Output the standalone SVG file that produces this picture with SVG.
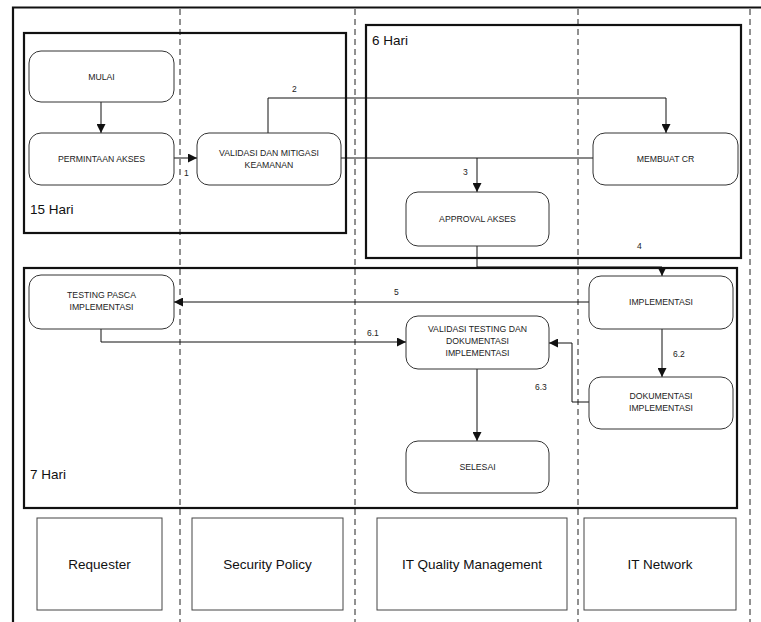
<svg xmlns="http://www.w3.org/2000/svg" width="761" height="622" viewBox="0 0 761 622">
  <style>
    .lane { stroke: #222; stroke-width: 1; stroke-dasharray: 6 4; fill: none; }
    .frame { stroke: #111; stroke-width: 2.2; fill: none; }
    .phase { stroke: #111; stroke-width: 2.2; fill: none; }
    .node rect { fill: #fff; stroke: #333; stroke-width: 1; }
    .node text { font-family: "Liberation Sans", Arial, sans-serif; font-size: 8.7px; fill: #222; text-anchor: middle; }
    .conn path { stroke: #111; stroke-width: 1; fill: none; }
    .elabel { font-family: "Liberation Sans", Arial, sans-serif; font-size: 8.5px; fill: #222; }
    .plabel { font-family: "Liberation Sans", Arial, sans-serif; font-size: 13.5px; fill: #111; }
    .role rect { fill: #fff; stroke: #444; stroke-width: 1; }
    .role text { font-family: "Liberation Sans", Arial, sans-serif; font-size: 13.5px; fill: #111; text-anchor: middle; }
  </style>
  <defs>
    <marker id="arrow" viewBox="0 0 10 10" refX="10" refY="5" markerWidth="9" markerHeight="9" markerUnits="userSpaceOnUse" orient="auto">
      <path d="M0,0 L10,5 L0,10 z" fill="#111"/>
    </marker>
  </defs>

  <rect width="761" height="622" fill="#fff"/>

  <!-- swimlane separators -->
  <g id="lanes">
    <line class="lane" x1="180" y1="9" x2="180" y2="622"/>
    <line class="lane" x1="355" y1="9" x2="355" y2="622"/>
    <line class="lane" x1="578" y1="9" x2="578" y2="622"/>
    <line class="lane" x1="750" y1="9" x2="750" y2="622"/>
  </g>

  <!-- outer frame -->
  <g id="frame">
    <path class="frame" d="M13,622 V7.5 H761"/>
  </g>

  <!-- phase boxes -->
  <g id="phase-15">
    <rect class="phase" x="24" y="33" width="322" height="200"/>
    <text class="plabel" x="30" y="214">15 Hari</text>
  </g>
  <g id="phase-6">
    <rect class="phase" x="366" y="25" width="375" height="233"/>
    <text class="plabel" x="372" y="45">6 Hari</text>
  </g>
  <g id="phase-7">
    <rect class="phase" x="24" y="268" width="713" height="240"/>
    <text class="plabel" x="30" y="479">7 Hari</text>
  </g>

  <!-- connectors -->
  <g id="connectors" class="conn">
    <path d="M101,102 V133" marker-end="url(#arrow)"/>
    <path d="M174,158 H197" marker-end="url(#arrow)"/>
    <path d="M268,133 V98 H666 V133" marker-end="url(#arrow)"/>
    <path d="M341,158 H593"/>
    <path d="M477,158 V192" marker-end="url(#arrow)"/>
    <path d="M477,246 V267 H662 V276" marker-end="url(#arrow)"/>
    <path d="M589,302 H174" marker-end="url(#arrow)"/>
    <path d="M101,329 V342 H406" marker-end="url(#arrow)"/>
    <path d="M662,329 V377" marker-end="url(#arrow)"/>
    <path d="M589,402 H572 V343 H549" marker-end="url(#arrow)"/>
    <path d="M477,369 V441" marker-end="url(#arrow)"/>
    <text class="elabel" x="184" y="176">1</text>
    <text class="elabel" x="292" y="92">2</text>
    <text class="elabel" x="463" y="175">3</text>
    <text class="elabel" x="637" y="249">4</text>
    <text class="elabel" x="394" y="295">5</text>
    <text class="elabel" x="367" y="336">6.1</text>
    <text class="elabel" x="673" y="357">6.2</text>
    <text class="elabel" x="535" y="390">6.3</text>
  </g>

  <!-- process steps -->
  <g id="mulai" class="node">
    <rect x="29" y="51" width="145" height="51" rx="12"/>
    <text x="101.5" y="79.5">MULAI</text>
  </g>
  <g id="permintaan-akses" class="node">
    <rect x="29" y="133" width="145" height="52" rx="12"/>
    <text x="101.5" y="161.5">PERMINTAAN AKSES</text>
  </g>
  <g id="validasi-mitigasi" class="node">
    <rect x="197" y="133" width="144" height="52" rx="12"/>
    <text x="269" y="156">VALIDASI DAN MITIGASI</text>
    <text x="269" y="168">KEAMANAN</text>
  </g>
  <g id="membuat-cr" class="node">
    <rect x="593" y="133" width="145" height="52" rx="12"/>
    <text x="665.5" y="161.5">MEMBUAT CR</text>
  </g>
  <g id="approval-akses" class="node">
    <rect x="406" y="192" width="143" height="54" rx="12"/>
    <text x="477.5" y="221.5">APPROVAL AKSES</text>
  </g>
  <g id="testing-pasca" class="node">
    <rect x="29" y="275" width="145" height="54" rx="12"/>
    <text x="101.5" y="298">TESTING PASCA</text>
    <text x="101.5" y="310">IMPLEMENTASI</text>
  </g>
  <g id="implementasi" class="node">
    <rect x="589" y="276" width="144" height="53" rx="12"/>
    <text x="661" y="305">IMPLEMENTASI</text>
  </g>
  <g id="validasi-testing" class="node">
    <rect x="406" y="316" width="143" height="53" rx="12"/>
    <text x="477.5" y="332">VALIDASI TESTING DAN</text>
    <text x="477.5" y="344">DOKUMENTASI</text>
    <text x="477.5" y="356">IMPLEMENTASI</text>
  </g>
  <g id="dokumentasi" class="node">
    <rect x="589" y="377" width="144" height="52" rx="12"/>
    <text x="661" y="399">DOKUMENTASI</text>
    <text x="661" y="411">IMPLEMENTASI</text>
  </g>
  <g id="selesai" class="node">
    <rect x="406" y="441" width="143" height="52" rx="12"/>
    <text x="477.5" y="469.5">SELESAI</text>
  </g>

  <!-- lane owners -->
  <g id="requester" class="role">
    <rect x="37" y="518" width="125" height="92"/>
    <text x="99.5" y="569">Requester</text>
  </g>
  <g id="security-policy" class="role">
    <rect x="192" y="518" width="151" height="92"/>
    <text x="267.5" y="569">Security Policy</text>
  </g>
  <g id="it-quality" class="role">
    <rect x="377" y="518" width="190" height="92"/>
    <text x="472" y="569">IT Quality Management</text>
  </g>
  <g id="it-network" class="role">
    <rect x="584" y="518" width="152" height="92"/>
    <text x="660" y="569">IT Network</text>
  </g>
</svg>
